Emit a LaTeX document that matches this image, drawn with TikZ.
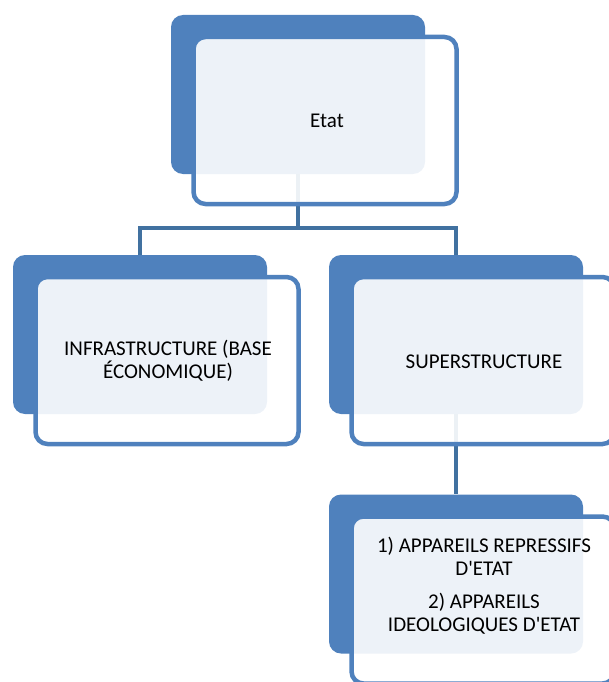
\documentclass[tikz,border=0pt]{standalone}
\usepackage{fontspec}
\setmainfont{Carlito}[Ligatures=TeXOff]
\definecolor{accblue}{RGB}{79,129,189}
\definecolor{linkblue}{RGB}{65,113,160}
\begin{document}
\begin{tikzpicture}[x=1pt,y=-1pt,
  backbox/.style={draw=none,fill=accblue,rounded corners=12pt,minimum width=254pt,minimum height=159pt,inner sep=0pt},
  frontbox/.style={draw=accblue,line width=4.5pt,fill=white,fill opacity=0.9,rounded corners=12pt,minimum width=263pt,minimum height=167pt,inner sep=0pt},
  lbl/.style={align=center,font=\fontsize{21}{23}\selectfont,text=black,inner sep=0pt},
  link/.style={draw=linkblue,line width=4pt}]
\useasboundingbox (0,0) rectangle (609,682);
% back boxes
\node[backbox] (bT) at (298,94.5) {};
\node[backbox] (bL) at (140,334.5) {};
\node[backbox] (bR) at (456,334.5) {};
\node[backbox] (bB) at (456,574) {};
% connectors
\coordinate (j) at (298,228);
\draw[link] (bT.south) -- (j) -| (bL.north);
\draw[link] (j) -| (bR.north);
\draw[link] (bR.south) -- (bB.north);
% front boxes
\node[frontbox] (fT) at (325,120.5) {};
\node[frontbox] (fL) at (167,360.5) {};
\node[frontbox] (fR) at (483,360.5) {};
\node[frontbox] (fB) at (483,600) {};
% texts
\node[lbl] (tT) at (327,121) {Etat};
\node[lbl] (tL) at (168,361) {INFRASTRUCTURE (BASE\\ÉCONOMIQUE)};
\node[lbl] (tR) at (484,362) {SUPERSTRUCTURE};
\node[lbl] (tB) at (484,586) {1) APPAREILS REPRESSIFS\\D'ETAT\\[10pt]2) APPAREILS\\IDEOLOGIQUES D'ETAT};
\end{tikzpicture}
\end{document}
